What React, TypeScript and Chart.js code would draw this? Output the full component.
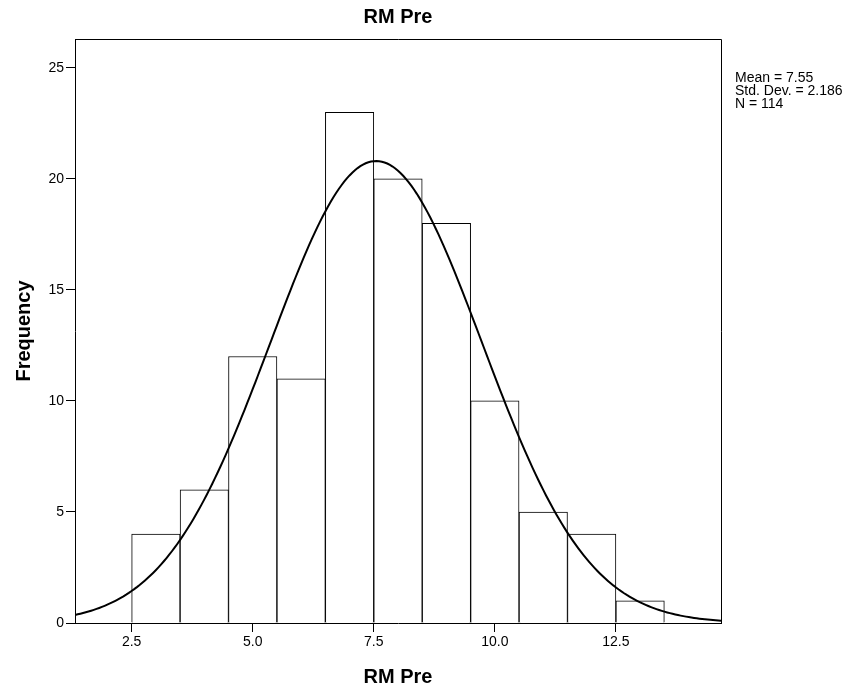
import React, { useEffect, useRef } from "react";
import { Chart, registerables } from "chart.js";

Chart.register(...registerables);

const chartTitle = "RM Pre";
const xAxisTitle = "RM Pre";
const yAxisTitle = "Frequency";
const binCenters = [3, 4, 5, 6, 7, 8, 9, 10, 11, 12, 13];
const frequencies = [4, 6, 12, 11, 23, 20, 18, 10, 5, 4, 1];
const xTicks = [2.5, 5.0, 7.5, 10.0, 12.5];
const xTickLabels = ["2.5", "5.0", "7.5", "10.0", "12.5"];
const yTicks = [0, 5, 10, 15, 20, 25];
const meanValue = 7.55;
const stdDev = 2.186;
const nCount = 114;
const statsLines = ["Mean = 7.55", "Std. Dev. = 2.186", "N = 114"];
const xMin = 1.33;
const xMax = 14.67;
const yMax = 26.3;

const FONT = "'Liberation Sans', Arial, sans-serif";

function normalCurve() {
  const pts: { x: number; y: number }[] = [];
  const steps = 240;
  for (let i = 0; i <= steps; i++) {
    const x = xMin + ((xMax - xMin) * i) / steps;
    const z = (x - meanValue) / stdDev;
    const y = (nCount * 1) / (stdDev * Math.sqrt(2 * Math.PI)) * Math.exp(-0.5 * z * z);
    pts.push({ x, y });
  }
  return pts;
}

export default function App() {
  const ref = useRef<HTMLCanvasElement | null>(null);
  useEffect(() => {
    document.body.style.margin = "0";
    const canvas = ref.current!;
    const textPlugin = {
      id: "texts",
      afterDraw(chart: any) {
        const ctx = chart.ctx;
        const a = chart.chartArea;
        ctx.save();
        ctx.strokeStyle = "#000";
        ctx.lineWidth = 1;
        ctx.beginPath();
        ctx.moveTo(a.left, a.top + 0.5);
        ctx.lineTo(a.right + 0.5, a.top + 0.5);
        ctx.lineTo(a.right + 0.5, a.bottom);
        ctx.stroke();
        ctx.fillStyle = "#000";
        ctx.textAlign = "center";
        ctx.textBaseline = "middle";
        ctx.font = `bold 20px ${FONT}`;
        const cx = (a.left + a.right) / 2;
        ctx.fillText(chartTitle, cx, 17);
        ctx.fillText(xAxisTitle, cx, 677);
        ctx.save();
        ctx.translate(24, (a.top + a.bottom) / 2);
        ctx.rotate(-Math.PI / 2);
        ctx.fillText(yAxisTitle, 0, 0);
        ctx.restore();
        ctx.textAlign = "left";
        ctx.font = `14px ${FONT}`;
        statsLines.forEach((s, i) => ctx.fillText(s, 735, 78 + i * 13));
        ctx.restore();
      },
    };
    const chart = new Chart(canvas, {
      type: "bar",
      data: {
        datasets: [
          {
            type: "line",
            data: normalCurve(),
            borderColor: "#000",
            borderWidth: 2,
            pointRadius: 0,
            tension: 0,
            order: 0,
          } as any,
          {
            type: "bar",
            data: binCenters.map((c, i) => ({ x: c, y: frequencies[i] })),
            backgroundColor: "#fff",
            borderColor: "#000",
            borderWidth: 1,
            barPercentage: 1,
            categoryPercentage: 1,
            order: 1,
          } as any,
        ],
      },
      options: {
        responsive: false,
        animation: false,
        layout: { padding: { left: 0, top: 39, right: 142, bottom: 0 } },
        plugins: { legend: { display: false }, tooltip: { enabled: false }, title: { display: false } },
        scales: {
          x: {
            type: "linear",
            offset: false,
            min: xMin,
            max: xMax,
            grid: { display: true, drawOnChartArea: false, drawTicks: true, tickLength: 9, color: "#000", offset: false },
            border: { display: true, color: "#000", width: 1 },
            ticks: {
              color: "#000",
              font: { family: FONT, size: 14 },
              padding: 2,
              maxRotation: 0,
              autoSkip: false,
              callback: (v: any) => {
                const i = xTicks.indexOf(Number(v));
                return i >= 0 ? xTickLabels[i] : "";
              },
            },
            afterBuildTicks: (s: any) => {
              s.ticks = xTicks.map((v) => ({ value: v }));
            },
            afterFit: (s: any) => {
              s.height = 64;
            },
          },
          y: {
            type: "linear",
            min: 0,
            max: yMax,
            grid: { display: true, drawOnChartArea: false, drawTicks: true, tickLength: 9, color: "#000" },
            border: { display: true, color: "#000", width: 1 },
            ticks: { color: "#000", font: { family: FONT, size: 14 }, padding: 2, autoSkip: false },
            afterBuildTicks: (s: any) => {
              s.ticks = yTicks.map((v) => ({ value: v }));
            },
            afterFit: (s: any) => {
              s.width = 75;
            },
          },
        },
      } as any,
      plugins: [textPlugin],
    });
    return () => chart.destroy();
  }, []);
  return <canvas ref={ref} width={863} height={687} style={{ display: "block" }} />;
}
